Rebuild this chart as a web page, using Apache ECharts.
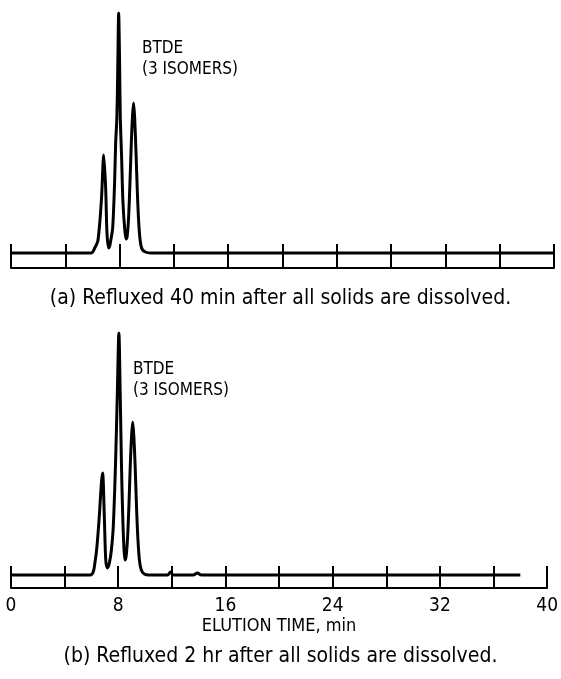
<!DOCTYPE html>
<html>
<head>
<meta charset="utf-8">
<script src="https://cdn.jsdelivr.net/npm/echarts@6/dist/echarts.min.js"></script>
<style>html,body{margin:0;padding:0;background:#fff}#c{width:561px;height:679px}</style>
</head>
<body>
<div id="c"></div>
<script>
// Elution time (min) and detector response (arbitrary units) for run (a)
const timeA = [0, 5.9, 6.17, 6.41, 6.66, 6.83, 6.97, 7.07, 7.19, 7.27, 7.34, 7.49, 7.63, 7.71, 7.80, 7.87, 7.93, 8.00, 8.05, 8.15, 8.24, 8.37, 8.48, 8.55, 8.65, 8.75, 8.85, 8.95, 9.03, 9.11, 9.21, 9.31, 9.41, 9.52, 9.65, 9.90, 10.3, 40];
const respA = [0, 0, 5, 13, 53, 98, 66, 20, 5, 7, 12, 25, 70, 110, 136, 190, 240, 190, 136, 95, 53, 25, 14, 16, 32, 65, 105, 137, 150, 135, 100, 60, 30, 12, 4, 1, 0, 0];
// Run (b)
const timeB = [0, 5.9, 6.29, 6.53, 6.83, 6.97, 7.07, 7.19, 7.34, 7.49, 7.63, 7.80, 7.93, 8.05, 8.15, 8.24, 8.37, 8.51, 8.60, 8.70, 8.80, 8.90, 9.00, 9.08, 9.16, 9.26, 9.36, 9.46, 9.58, 9.72, 9.95, 10.3, 11.7, 11.9, 12.1, 13.6, 13.9, 14.2, 38];
const respB = [0, 0, 15, 48, 102, 55, 15, 7, 12, 25, 48, 112, 180, 242, 180, 112, 45, 15, 20, 38, 70, 110, 140, 153, 140, 110, 70, 38, 15, 5, 1, 0, 0, 3, 0, 0, 2, 0, 0];
const tickLabels = ['0', '8', '16', '24', '32', '40'];
const xAxisName = 'ELUTION TIME, min';
const captionA = '(a) Refluxed 40 min after all solids are dissolved.';
const captionB = '(b) Refluxed 2 hr after all solids are dissolved.';
const annoLine1 = 'BTDE';
const annoLine2A = '(3 ISOMERS)';
const annoLine2B = '(3 ISOMERS)';

const FONT = '"DejaVu Sans Condensed", "Liberation Sans Narrow", "DejaVu Sans", sans-serif';
const pairs = (t, r) => t.map((v, i) => [v, r[i]]);

function xAx(idx, showLabels) {
  return {
    type: 'value', gridIndex: idx, min: 0, max: 40, interval: 4,
    axisLine: { onZero: false, lineStyle: { color: '#000', width: 2 } },
    axisTick: { inside: true, length: idx === 0 ? 24 : 22, lineStyle: { color: '#000', width: 2 } },
    splitLine: { show: false },
    axisLabel: {
      show: showLabels, margin: 9, color: '#000', fontFamily: FONT, fontSize: 19,
      formatter: v => tickLabels.indexOf(String(v)) >= 0 ? String(v) : ''
    },
    name: showLabels ? xAxisName : '', nameLocation: 'middle', nameGap: 24,
    nameTextStyle: { color: '#000', fontFamily: FONT, fontSize: 18 }
  };
}

const chart = echarts.init(document.getElementById('c'));
chart.setOption({
  animation: false,
  backgroundColor: '#fff',
  grid: [
    { left: 11, right: 7, top: 13, height: 255 },
    { left: 11, right: 7, top: 333, height: 255 }
  ],
  xAxis: [xAx(0, false), xAx(1, true)],
  yAxis: [
    { type: 'value', gridIndex: 0, min: -15, max: 240, show: false, splitLine: { show: false } },
    { type: 'value', gridIndex: 1, min: -13, max: 242, show: false, splitLine: { show: false } }
  ],
  title: [
    { text: captionA, left: 'center', top: 283, textStyle: { color: '#000', fontFamily: FONT, fontSize: 21, fontWeight: 'normal' } },
    { text: captionB, left: 'center', top: 641, textStyle: { color: '#000', fontFamily: FONT, fontSize: 21, fontWeight: 'normal' } }
  ],
  graphic: [
    { type: 'text', left: 142, top: 38, style: { text: annoLine1 + '\n' + annoLine2A, fill: '#000', font: '17px ' + FONT, lineHeight: 21 } },
    { type: 'text', left: 133, top: 359, style: { text: annoLine1 + '\n' + annoLine2B, fill: '#000', font: '17px ' + FONT, lineHeight: 21 } }
  ],
  series: [
    { type: 'line', xAxisIndex: 0, yAxisIndex: 0, data: pairs(timeA, respA), symbol: 'none', smooth: 0.3, lineStyle: { color: '#000', width: 3 } },
    { type: 'line', xAxisIndex: 1, yAxisIndex: 1, data: pairs(timeB, respB), symbol: 'none', smooth: 0.3, lineStyle: { color: '#000', width: 3 } }
  ]
});
</script>
</body>
</html>
